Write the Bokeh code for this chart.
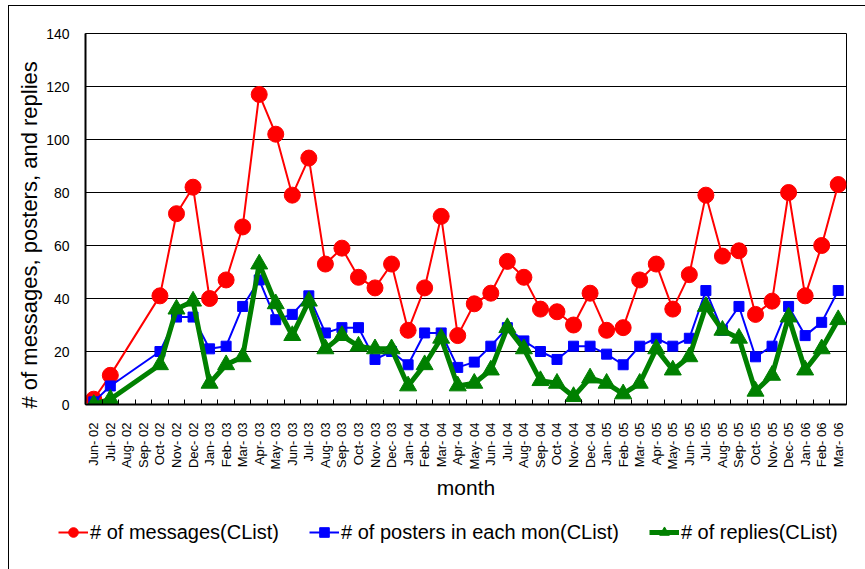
import math
from bokeh.plotting import figure
from bokeh.models import (ColumnDataSource, Range1d, FixedTicker, Legend, LegendItem, Title)
from bokeh.embed import file_html
from bokeh.resources import INLINE

months = ["Jun- 02", "Jul- 02", "Aug- 02", "Sep- 02", "Oct- 02", "Nov- 02", "Dec- 02",
          "Jan- 03", "Feb- 03", "Mar- 03", "Apr- 03", "May- 03", "Jun- 03", "Jul- 03",
          "Aug- 03", "Sep- 03", "Oct- 03", "Nov- 03", "Dec- 03",
          "Jan- 04", "Feb- 04", "Mar- 04", "Apr- 04", "May- 04", "Jun- 04", "Jul- 04",
          "Aug- 04", "Sep- 04", "Oct- 04", "Nov- 04", "Dec- 04",
          "Jan- 05", "Feb- 05", "Mar- 05", "Apr- 05", "May- 05", "Jun- 05", "Jul- 05",
          "Aug- 05", "Sep- 05", "Oct- 05", "Nov- 05", "Dec- 05",
          "Jan- 06", "Feb- 06", "Mar- 06"]

messages = [2, 11, None, None, 41, 72, 82,
            40, 47, 67, 117, 102, 79, 93, 53, 59, 48, 44, 53,
            28, 44, 71, 26, 38, 42, 54, 48, 36, 35, 30, 42,
            28, 29, 47, 53, 36, 49, 79, 56, 58, 34, 39, 80,
            41, 60, 83]

posters = [1, 7, None, None, 20, 33, 33,
           21, 22, 37, 47, 32, 34, 41, 27, 29, 29, 17, 20,
           15, 27, 27, 14, 16, 22, 29, 24, 20, 17, 22, 22,
           19, 15, 22, 25, 22, 25, 43, 28, 37, 18, 22, 37,
           26, 31, 43]

replies = [0, 2, None, None, 15, 36, 39,
           8, 15, 18, 53, 38, 26, 39, 21, 26, 22, 21, 21,
           7, 15, 25, 7, 8, 13, 29, 21, 9, 8, 3, 10,
           8, 4, 8, 21, 13, 18, 37, 28, 25, 5, 11, 33,
           13, 21, 32]

y_ticks = [0, 20, 40, 60, 80, 100, 120, 140]

series_names = ["# of messages(CList)", "# of posters in each mon(CList)", "# of replies(CList)"]

FONT = "Liberation Sans"
RED, BLUE, GREEN = "#FF0000", "#0000FF", "#008000"


def source_for(values):
    xs = [i for i, v in enumerate(values) if v is not None]
    ys = [v for v in values if v is not None]
    return ColumnDataSource(dict(x=xs, y=ys))


def add_series(fig, src_msg, src_pos, src_rep):
    r = []
    r.append(fig.line("x", "y", source=src_msg, line_color=RED, line_width=2))
    r.append(fig.scatter("x", "y", source=src_msg, marker="circle", size=16,
                         fill_color=RED, line_color=RED))
    r.append(fig.line("x", "y", source=src_pos, line_color=BLUE, line_width=2))
    r.append(fig.scatter("x", "y", source=src_pos, marker="square", size=10,
                         fill_color=BLUE, line_color=BLUE))
    r.append(fig.line("x", "y", source=src_rep, line_color=GREEN, line_width=5))
    r.append(fig.scatter("x", "y", source=src_rep, marker="triangle", size=17,
                         fill_color=GREEN, line_color=GREEN))
    return r


p = figure(width=865, height=520, output_backend="svg", toolbar_location=None,
           x_range=Range1d(-0.5, len(months) - 0.5), y_range=Range1d(0, 140),
           min_border_left=85, min_border_right=19, min_border_top=33, min_border_bottom=116)
p.background_fill_color = "white"
p.border_fill_color = None
p.outline_line_color = "black"
p.outline_line_width = 1
p.styles = {"background": "linear-gradient(#000,#000) 8px 5px / 1px 100% no-repeat, "
                          "linear-gradient(#000,#000) 8px 5px / 100% 1px no-repeat, #fff"}

# grid
p.xgrid.grid_line_color = None
p.ygrid.grid_line_color = "black"
p.ygrid.grid_line_width = 1
p.ygrid.ticker = FixedTicker(ticks=y_ticks)

# x axis
xa = p.xaxis[0]
xa.ticker = FixedTicker(ticks=list(range(len(months))),
                        minor_ticks=[i - 0.5 for i in range(len(months) + 1)])
xa.major_label_overrides = {i: m for i, m in enumerate(months)}
xa.major_label_orientation = math.pi / 2
xa.major_tick_line_color = None
xa.minor_tick_line_color = "black"
xa.minor_tick_in = 5
xa.minor_tick_out = 0
xa.axis_line_color = "black"
xa.axis_line_width = 2
xa.major_label_text_font = FONT
xa.major_label_text_font_size = "13px"
xa.major_label_text_color = "black"
xa.major_label_standoff = 12
xa.axis_label = "month"
xa.axis_label_text_font = FONT
xa.axis_label_text_font_size = "21px"
xa.axis_label_text_font_style = "normal"
xa.axis_label_text_color = "black"
xa.axis_label_standoff = 4

# y axis
ya = p.yaxis[0]
ya.ticker = FixedTicker(ticks=y_ticks)
ya.major_tick_line_color = None
ya.minor_tick_line_color = None
ya.axis_line_color = "black"
ya.axis_line_width = 2
ya.major_label_text_font = FONT
ya.major_label_text_font_size = "14px"
ya.major_label_text_color = "black"
ya.major_label_standoff = 10

ytitle = Title(text="# of messages, posters, and replies", align="left", offset=-4,
               text_font=FONT, text_font_size="22px", text_font_style="normal",
               text_color="black", standoff=4)
p.add_layout(ytitle, "left")

# series
s_msg = source_for(messages)
s_pos = source_for(posters)
s_rep = source_for(replies)
add_series(p, s_msg, s_pos, s_rep)

# legend strip: a second root below the chart; its view shows no data (range above 140)
lg = figure(width=865, height=49, output_backend="svg", toolbar_location=None,
            x_axis_location=None, y_axis_location=None,
            x_range=Range1d(-0.5, len(months) - 0.5), y_range=Range1d(1000, 1001),
            min_border_left=0, min_border_right=0, min_border_top=0, min_border_bottom=0)
lg.background_fill_color = None
lg.border_fill_color = None
lg.outline_line_color = None
lg.xgrid.grid_line_color = None
lg.ygrid.grid_line_color = None
lg.styles = {"background": "linear-gradient(#000,#000) 8px 0px / 1px 100% no-repeat, #fff"}

lr = add_series(lg, s_msg, s_pos, s_rep)

legend = Legend(items=[
    LegendItem(label=series_names[0], renderers=[lr[0], lr[1]]),
    LegendItem(label=series_names[1], renderers=[lr[2], lr[3]]),
    LegendItem(label=series_names[2], renderers=[lr[4], lr[5]]),
], orientation="horizontal", location=(58, 25))
legend.border_line_color = None
legend.background_fill_alpha = 0
legend.padding = 0
legend.margin = 0
legend.spacing = 30
legend.label_standoff = 2
legend.glyph_width = 30
legend.glyph_height = 24
legend.label_height = 20
legend.label_text_font = FONT
legend.label_text_font_size = "20px"
legend.label_text_color = "black"
lg.add_layout(legend)

open("out.html", "w").write(file_html([p, lg], INLINE))
